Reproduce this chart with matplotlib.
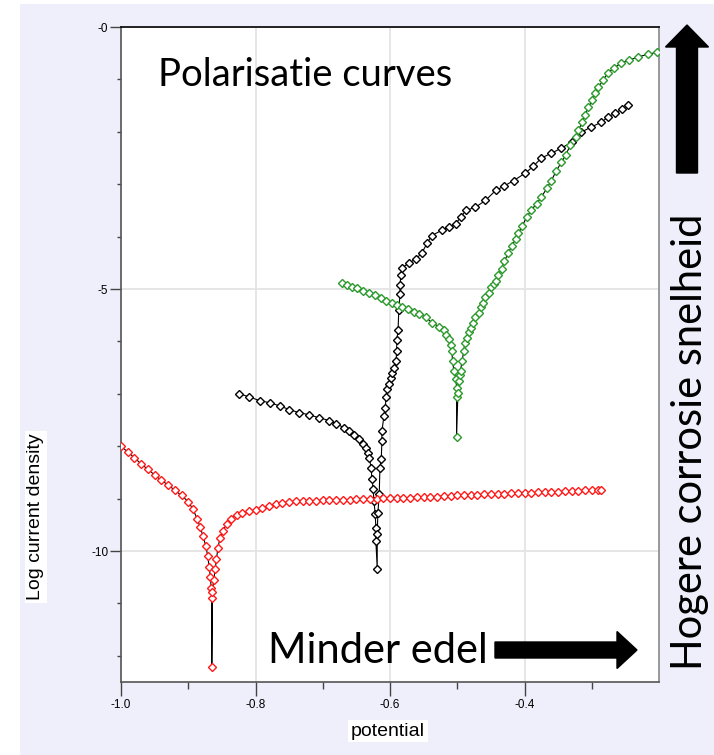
import numpy as np
import matplotlib
matplotlib.use("Agg")
import matplotlib.pyplot as plt
from matplotlib.patches import Rectangle, FancyArrow

# red curve (most noble metal)
red_x = [-1.000, -0.990, -0.980, -0.970, -0.960, -0.950, -0.940, -0.930, -0.920, -0.910,
         -0.900, -0.893, -0.887, -0.882, -0.878, -0.874, -0.871, -0.869, -0.867, -0.866,
         -0.865, -0.865, -0.864, -0.862, -0.860, -0.858, -0.856, -0.853, -0.849, -0.843,
         -0.836, -0.828, -0.820, -0.810, -0.800, -0.790, -0.780, -0.770, -0.760, -0.750,
         -0.740, -0.730, -0.720, -0.710, -0.700, -0.690, -0.680, -0.670, -0.660, -0.650,
         -0.640, -0.630, -0.620, -0.610, -0.600, -0.590, -0.580, -0.570, -0.560, -0.550,
         -0.540, -0.530, -0.520, -0.510, -0.500, -0.490, -0.480, -0.470, -0.460, -0.450,
         -0.440, -0.430, -0.420, -0.410, -0.400, -0.390, -0.380, -0.370, -0.360, -0.350,
         -0.340, -0.330, -0.320, -0.310, -0.300, -0.290, -0.286]
red_y = [-8.00, -8.11, -8.22, -8.34, -8.44, -8.55, -8.65, -8.74, -8.84, -8.94,
         -9.06, -9.20, -9.38, -9.55, -9.72, -9.90, -10.10, -10.30, -10.50, -10.70,
         -10.90, -12.22, -10.78, -10.55, -10.35, -10.15, -9.95, -9.76, -9.62, -9.49,
         -9.38, -9.31, -9.27, -9.24, -9.22, -9.18, -9.14, -9.11, -9.08, -9.06,
         -9.05, -9.05, -9.04, -9.04, -9.03, -9.03, -9.02, -9.02, -9.02, -9.01,
         -9.01, -9.00, -9.00, -8.99, -8.99, -8.99, -8.98, -8.98, -8.97, -8.97,
         -8.96, -8.96, -8.95, -8.95, -8.94, -8.94, -8.93, -8.93, -8.92, -8.92,
         -8.91, -8.91, -8.90, -8.90, -8.89, -8.89, -8.88, -8.88, -8.87, -8.87,
         -8.86, -8.85, -8.85, -8.84, -8.84, -8.83, -8.83]

# black curve
black_x = [-0.824, -0.809, -0.794, -0.779, -0.764, -0.750, -0.735, -0.720, -0.705, -0.690,
           -0.680, -0.668, -0.661, -0.653, -0.646, -0.640, -0.636, -0.633, -0.631, -0.628,
           -0.627, -0.625, -0.624, -0.622, -0.621, -0.621, -0.619,
           -0.619, -0.618, -0.616, -0.615, -0.613, -0.612, -0.612, -0.609, -0.607, -0.606,
           -0.604, -0.601, -0.599, -0.597, -0.594, -0.591, -0.590, -0.590, -0.588, -0.587,
           -0.585, -0.585, -0.584, -0.582,
           -0.572, -0.561, -0.553, -0.545, -0.538, -0.523, -0.513, -0.502, -0.495, -0.487,
           -0.473, -0.458, -0.443, -0.431, -0.416, -0.399, -0.387, -0.375, -0.360, -0.345,
           -0.330, -0.316, -0.301, -0.286, -0.276, -0.265, -0.255, -0.246]
black_y = [-7.00, -7.06, -7.13, -7.17, -7.23, -7.30, -7.36, -7.40, -7.46, -7.51,
           -7.57, -7.65, -7.71, -7.78, -7.86, -7.95, -8.03, -8.13, -8.22, -8.41,
           -8.62, -8.81, -9.04, -9.29, -9.56, -9.81, -10.34,
           -9.67, -9.27, -8.91, -8.41, -8.24, -7.90, -7.71, -7.42, -7.27, -7.07,
           -6.90, -6.81, -6.69, -6.60, -6.50, -6.37, -6.18, -5.98, -5.79, -5.41,
           -5.09, -4.93, -4.74, -4.59,
           -4.51, -4.42, -4.32, -4.13, -3.98, -3.88, -3.82, -3.75, -3.63, -3.50,
           -3.44, -3.31, -3.12, -3.04, -2.93, -2.79, -2.66, -2.50, -2.41, -2.31,
           -2.20, -2.01, -1.91, -1.82, -1.72, -1.64, -1.57, -1.49]

# green curve (least noble metal)
green_x = [-0.671, -0.664, -0.656, -0.649, -0.640, -0.631, -0.622, -0.613, -0.606, -0.597,
           -0.590, -0.582, -0.573, -0.564, -0.557, -0.547, -0.538, -0.527, -0.520, -0.516,
           -0.513, -0.510, -0.508, -0.507, -0.505, -0.502, -0.501, -0.501, -0.501,
           -0.499, -0.498, -0.496, -0.495, -0.493, -0.490, -0.489, -0.486, -0.483, -0.480,
           -0.476, -0.473, -0.468, -0.465, -0.461, -0.458, -0.453, -0.450, -0.446, -0.443,
           -0.439, -0.434, -0.430, -0.424, -0.419, -0.413, -0.409, -0.403, -0.397, -0.390,
           -0.382, -0.375, -0.367, -0.360, -0.353, -0.345, -0.339, -0.332, -0.324, -0.320,
           -0.314, -0.310, -0.305, -0.299, -0.295, -0.290, -0.283, -0.276, -0.267, -0.256,
           -0.244, -0.231, -0.216, -0.203]
green_y = [-4.89, -4.93, -4.97, -4.99, -5.03, -5.07, -5.12, -5.18, -5.22, -5.26,
           -5.30, -5.35, -5.39, -5.43, -5.47, -5.54, -5.64, -5.72, -5.79, -5.87,
           -5.95, -6.06, -6.18, -6.37, -6.56, -6.71, -6.88, -7.07, -7.82,
           -6.98, -6.75, -6.65, -6.56, -6.37, -6.18, -6.04, -5.93, -5.83, -5.74,
           -5.64, -5.54, -5.45, -5.35, -5.26, -5.16, -5.07, -4.97, -4.91, -4.84,
           -4.74, -4.61, -4.46, -4.32, -4.17, -4.05, -3.94, -3.79, -3.63, -3.50,
           -3.37, -3.25, -3.08, -2.93, -2.75, -2.58, -2.45, -2.26, -2.10, -1.97,
           -1.82, -1.68, -1.53, -1.40, -1.26, -1.15, -1.01, -0.88, -0.78, -0.69,
           -0.63, -0.57, -0.52, -0.48]

xticks = [-1.0, -0.8, -0.6, -0.4]
xtick_labels = ["-1.0", "-0.8", "-0.6", "-0.4"]
yticks = [0, -5, -10]
ytick_labels = ["-0", "-5", "-10"]

W, H = 714, 755
fig = plt.figure(figsize=(W / 100, H / 100), dpi=100)
fig.patch.set_facecolor("white")
fig.patches.append(Rectangle((20 / W, 0), 1 - 20 / W, 1 - 4 / H, transform=fig.transFigure,
                             facecolor="#efeffb", edgecolor="none", zorder=-10))

ax = fig.add_axes([121 / W, 1 - 682 / H, 538 / W, 655 / H])
ax.set_facecolor("white")

for xs, ys, c in [(black_x, black_y, "black"), (red_x, red_y, "#ff1a1a"), (green_x, green_y, "#2a9a2a")]:
    ax.plot(xs, ys, color="black", lw=0.8, zorder=2)
    ax.plot(xs, ys, ls="none", marker="D", ms=4.3, mfc="white", mec=c, mew=1.0, zorder=3)

ax.set_xlim(-1.0, -0.2)
ax.set_ylim(-12.5, 0)
ax.set_xticks(xticks)
ax.set_xticklabels(xtick_labels)
ax.set_xticks([-0.9, -0.7, -0.5, -0.3], minor=True)
ax.set_yticks(yticks)
ax.set_yticklabels(ytick_labels)
ax.set_yticks([-1, -2, -3, -4, -6, -7, -8, -9, -11, -12], minor=True)
ax.grid(True, which="major", color="#e4e4e4", lw=1.3, zorder=0)
ax.set_axisbelow(True)

ax.tick_params(axis="x", which="major", length=10, width=1, color="#444444", labelsize=8.5, pad=2)
ax.tick_params(axis="x", which="minor", length=5, width=1, color="#444444")
ax.tick_params(axis="y", which="major", length=8, width=1, color="#444444", labelsize=8.5, pad=1)
ax.tick_params(axis="y", which="minor", length=3, width=1, color="#444444")
for lab in ax.get_xticklabels() + ax.get_yticklabels():
    lab.set_fontfamily("Liberation Sans")

ax.spines["left"].set_color("#555555")
ax.spines["bottom"].set_color("#555555")
ax.spines["right"].set_color("#888888")
ax.spines["top"].set_color("black")
for s in ax.spines.values():
    s.set_linewidth(1.2)

lab_box = dict(facecolor="white", edgecolor="none", pad=2)
fig.text(36 / W, 1 - 517 / H, "Log current density", rotation=90, ha="center", va="center",
         fontsize=14, family="Liberation Sans", bbox=lab_box)
fig.text(388 / W, 1 - 731 / H, "potential", ha="center", va="center",
         fontsize=14, family="Liberation Sans", bbox=lab_box)

fig.text(158 / W, 1 - 86 / H, "Polarisatie curves", ha="left", va="baseline",
         family="Lato", fontsize=27.5)
fig.text(268 / W, 1 - 663 / H, "Minder edel", ha="left", va="baseline",
         family="Lato", fontsize=30)
fig.text(690 / W, 1 - 442 / H, "Hogere corrosie snelheid", rotation=90,
         ha="center", va="center", family="Lato", fontsize=30)

# block arrows, drawn in inches so they keep their shape
fig.patches.append(FancyArrow(4.95, (H - 650) / 100, 1.42, 0, width=0.16, head_width=0.37,
                              head_length=0.2, length_includes_head=True,
                              transform=fig.dpi_scale_trans, color="black"))
fig.patches.append(FancyArrow(6.87, (H - 173) / 100, 0, 1.48, width=0.21, head_width=0.43,
                              head_length=0.22, length_includes_head=True,
                              transform=fig.dpi_scale_trans, color="black"))

fig.savefig("out.png", dpi=100)
